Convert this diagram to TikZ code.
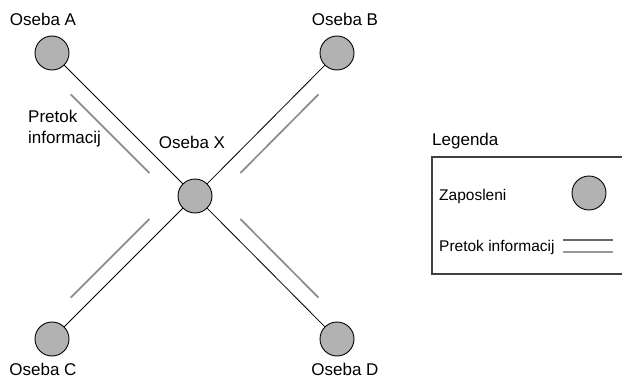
\documentclass[tikz,border=0pt]{standalone}
\usepackage{fontspec}
\setmainfont{Liberation Sans}
\usetikzlibrary{calc,positioning}

\begin{document}
\begin{tikzpicture}[
  x=1pt, y=-1pt,
  person/.style={circle, draw, fill=gray!60, minimum size=34pt, inner sep=0pt, line width=0.9pt},
  lbl/.style={inner sep=0pt, font=\fontsize{17}{21}\selectfont},
  leg/.style={inner sep=0pt, font=\fontsize{15.5}{19}\selectfont},
  link/.style={line width=0.8pt},
  flow/.style={line width=1.7pt, draw=black!45}
]
\useasboundingbox (0,0) rectangle (622,380);

% people
\node[person] (A) at (52,53) {};
\node[person] (B) at (337,53) {};
\node[person] (X) at (195,196) {};
\node[person] (C) at (52,339) {};
\node[person] (D) at (337,339) {};

\node[lbl, anchor=base] (labA) at (43,25.5) {Oseba A};
\node[lbl, anchor=base] (labB) at (345,25.5) {Oseba B};
\node[lbl, anchor=base] (labX) at (192,148) {Oseba X};
\node[lbl, anchor=base] (labC) at (43,375.5) {Oseba C};
\node[lbl, anchor=base] (labD) at (345,375.5) {Oseba D};
\node[lbl, anchor=base west, align=left] (labFlow) at (28,143.5) {Pretok\\informacij};

% links
\draw[link] (A) -- (X);
\draw[link] (B) -- (X);
\draw[link] (C) -- (X);
\draw[link] (D) -- (X);

% information flow
\draw[flow] ($(A)!0.21!(X)!16pt!-90:(X)$) -- ($(A)!0.76!(X)!16pt!-90:(X)$);
\draw[flow] ($(B)!0.21!(X)!16pt!90:(X)$) -- ($(B)!0.76!(X)!16pt!90:(X)$);
\draw[flow] ($(C)!0.21!(X)!16pt!90:(X)$) -- ($(C)!0.76!(X)!16pt!90:(X)$);
\draw[flow] ($(D)!0.21!(X)!16pt!-90:(X)$) -- ($(D)!0.76!(X)!16pt!-90:(X)$);

% legend
\node[lbl, anchor=base west] (legTitle) at (432,145.5) {Legenda};
\draw[line width=1.2pt, black!75] (630,157) -| (432,274) -- (630,274);
\node[leg, anchor=base west] (legPerson) at (439,200.5) {Zaposleni};
\node[person] (sample) at (589,193) {};
\node[leg, anchor=base west] (legFlow) at (439,251.5) {Pretok informacij};
\coordinate (f1) at (563,240);
\coordinate (f2) at (613,240);
\coordinate (f3) at (563,252);
\coordinate (f4) at (613,252);
\draw[line width=1.2pt, black!60] (f1) -- (f2);
\draw[line width=1.2pt, black!40] (f3) -- (f4);

\end{tikzpicture}
\end{document}
